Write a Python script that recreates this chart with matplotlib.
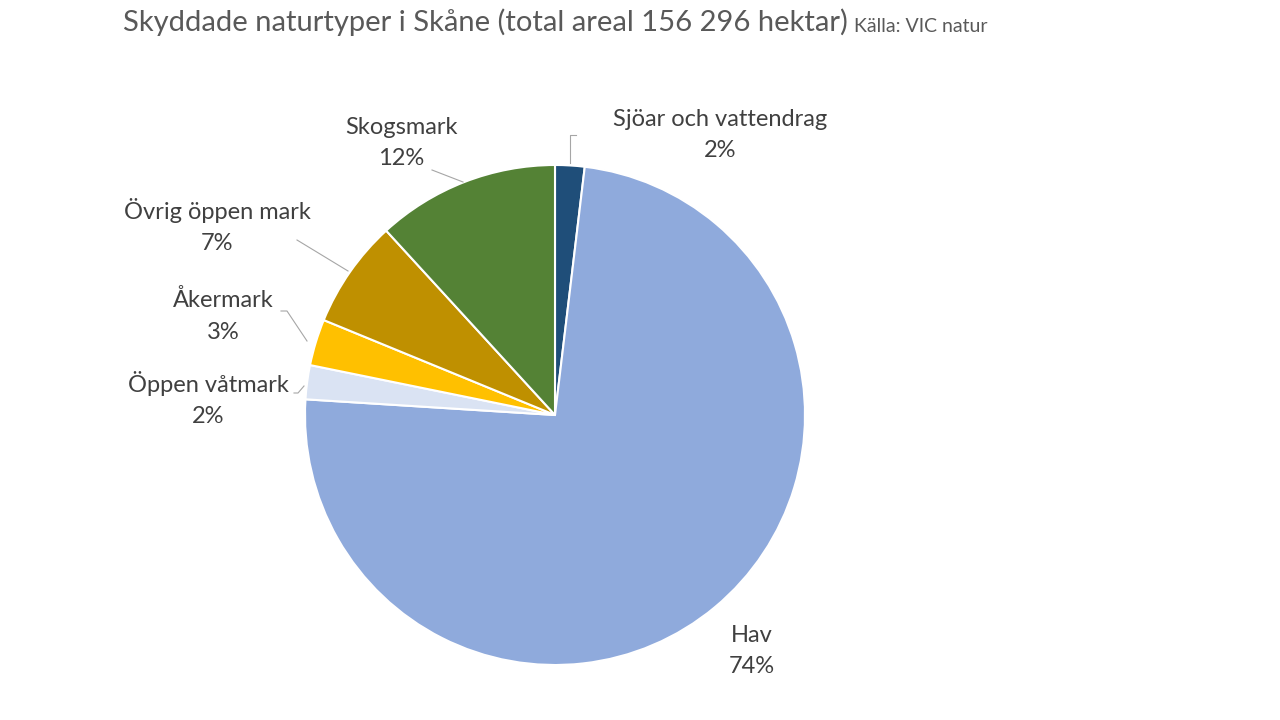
import matplotlib.pyplot as plt

# Skyddade naturtyper i Skåne, andel av areal (%)
names = ['Sjöar och vattendrag', 'Hav', 'Öppen våtmark', 'Åkermark',
         'Övrig öppen mark', 'Skogsmark']
shares = [1.9, 74.1, 2.2, 3.0, 7.0, 11.8]
colors = ['#1F4E79', '#8FAADC', '#DAE3F3', '#FFC000', '#BF9000', '#548235']

# label placement (pixel coords, y from top) and leader lines
label_pos = [(720, 135), (752, 651), (208, 399), (223, 316), (217, 226), (401, 143)]
leaders = [
    [(576, 135), (570, 135), (570, 163)],
    None,
    [(294, 393), (298, 393), (304, 386)],
    [(281, 311), (287, 311), (307, 341)],
    [(297, 240), (348, 271)],
    [(432, 170), (463, 182)],
]

plt.rcParams['font.family'] = ['Lato', 'DejaVu Sans']

fig = plt.figure(figsize=(12.8, 7.2), dpi=100)
ax = fig.add_axes([0, 0, 1, 1])

# y axis is flipped below, so start at -90 and counterclock -> clockwise from 12 o'clock
wedges, _ = ax.pie(shares, colors=colors, startangle=-90, counterclock=True,
                   center=(555, 415), radius=250, frame=True,
                   wedgeprops=dict(edgecolor='white', linewidth=1.5))
ax.set_xlim(0, 1280)
ax.set_ylim(720, 0)
ax.set_aspect('equal')
ax.axis('off')

for name, val, (x, y), line in zip(names, shares, label_pos, leaders):
    ax.text(x, y, f'{name}\n{round(val):.0f}%', ha='center', va='center',
            fontsize=17, color='#404040', linespacing=1.6)
    if line:
        xs = [p[0] for p in line]
        ys = [p[1] for p in line]
        ax.plot(xs, ys, color='#A6A6A6', lw=0.8)

title = fig.text(123 / 1280, 1 - 22 / 720, 'Skyddade naturtyper i Skåne (total areal 156 296 hektar)',
                 fontsize=21, color='#595959', va='center', ha='left')
# put the source note right after the title
r = fig.canvas.get_renderer()
bb = title.get_window_extent(renderer=r)
fig.text((bb.x1 + 6) / 1280, 1 - 26 / 720, 'Källa: VIC natur', fontsize=14, color='#595959',
         va='center', ha='left')

fig.savefig('out.png', dpi=100)
